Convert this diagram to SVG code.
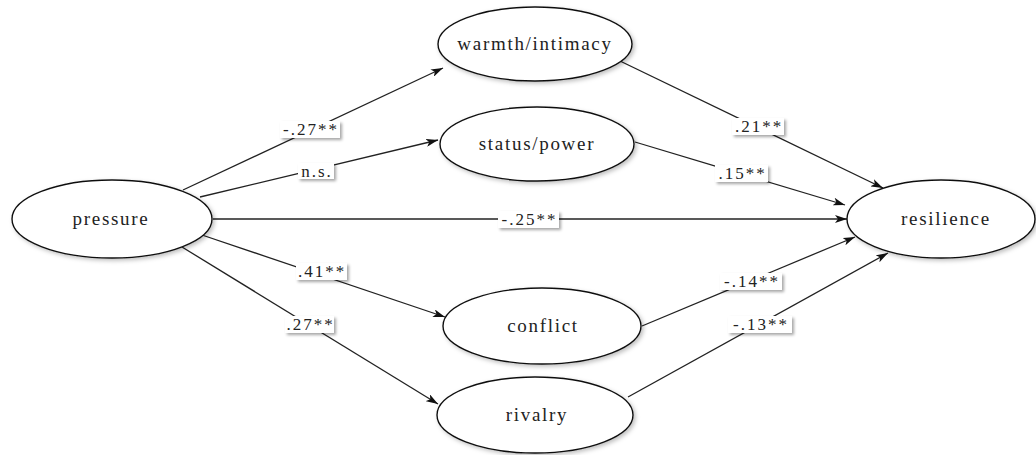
<svg xmlns="http://www.w3.org/2000/svg" width="1036" height="455" viewBox="0 0 1036 455">
<defs>
<marker id="arr" viewBox="0 0 12 8" refX="12" refY="4" markerWidth="12" markerHeight="8" markerUnits="userSpaceOnUse" orient="auto">
<path d="M0,0 L12,4 L0,8 L3,4 Z" fill="#111"/>
</marker>
<filter id="sh" x="-20%" y="-20%" width="150%" height="160%">
<feDropShadow dx="2" dy="2" stdDeviation="1.5" flood-color="#000" flood-opacity="0.35"/>
</filter>
<filter id="esh" x="-10%" y="-10%" width="125%" height="130%">
<feDropShadow dx="2" dy="2" stdDeviation="2" flood-color="#000" flood-opacity="0.25"/>
</filter>
</defs>
<style>
.node ellipse{fill:#fff;stroke:#111;stroke-width:1.4;filter:url(#esh)}
.node text{font-family:"Liberation Serif","Times New Roman",serif;font-size:19px;letter-spacing:1.7px;text-anchor:middle;fill:#222}
.edge line{stroke:#222;stroke-width:1.3;marker-end:url(#arr)}
.lbl rect{fill:#fff;filter:url(#sh)}
.lbl text{font-family:"Liberation Serif","Times New Roman",serif;font-size:17px;letter-spacing:2px;text-anchor:middle;fill:#222}
</style>
<rect width="1036" height="455" fill="#fff"/>
<g id="connectors" class="edge">
<line x1="183" y1="190" x2="443" y2="68"/>
<line x1="200" y1="197" x2="438" y2="140"/>
<line x1="213" y1="219" x2="847" y2="219"/>
<line x1="202" y1="235" x2="445" y2="317"/>
<line x1="182" y1="247" x2="438" y2="404"/>
<line x1="620" y1="61" x2="883" y2="188"/>
<line x1="635" y1="142" x2="845" y2="205"/>
<line x1="642" y1="326" x2="855" y2="237"/>
<line x1="628" y1="397" x2="888" y2="253"/>
</g>
<g id="labels" class="lbl">
<g id="l1"><rect x="280" y="121" width="60" height="17"/><text x="311" y="135">-.27**</text></g>
<g id="l2"><rect x="298" y="163" width="36" height="16"/><text x="317" y="177">n.s.</text></g>
<g id="l3"><rect x="498" y="211" width="61" height="17"/><text x="529.5" y="225">-.25**</text></g>
<g id="l4"><rect x="296" y="263" width="51" height="17"/><text x="322" y="277">.41**</text></g>
<g id="l5"><rect x="285" y="316" width="49" height="17"/><text x="310.5" y="330">.27**</text></g>
<g id="l6"><rect x="732" y="118" width="52" height="17"/><text x="759" y="132">.21**</text></g>
<g id="l7"><rect x="715" y="165" width="53" height="17"/><text x="742.5" y="179">.15**</text></g>
<g id="l8"><rect x="720" y="273" width="62" height="17"/><text x="752" y="287">-.14**</text></g>
<g id="l9"><rect x="728" y="316" width="64" height="17"/><text x="761" y="330">-.13**</text></g>
</g>
<g id="pressure" class="node"><ellipse cx="112" cy="219" rx="100" ry="39"/><text x="111" y="225">pressure</text></g>
<g id="warmth" class="node"><ellipse cx="535" cy="44" rx="97" ry="37"/><text x="535" y="50">warmth/intimacy</text></g>
<g id="status" class="node"><ellipse cx="537" cy="144" rx="97" ry="37"/><text x="537" y="150">status/power</text></g>
<g id="resilience" class="node"><ellipse cx="941" cy="219" rx="94" ry="39"/><text x="946" y="225">resilience</text></g>
<g id="conflict" class="node"><ellipse cx="542" cy="326" rx="99" ry="38"/><text x="543" y="332">conflict</text></g>
<g id="rivalry" class="node"><ellipse cx="535" cy="415" rx="98" ry="38"/><text x="537" y="421">rivalry</text></g>
</svg>
